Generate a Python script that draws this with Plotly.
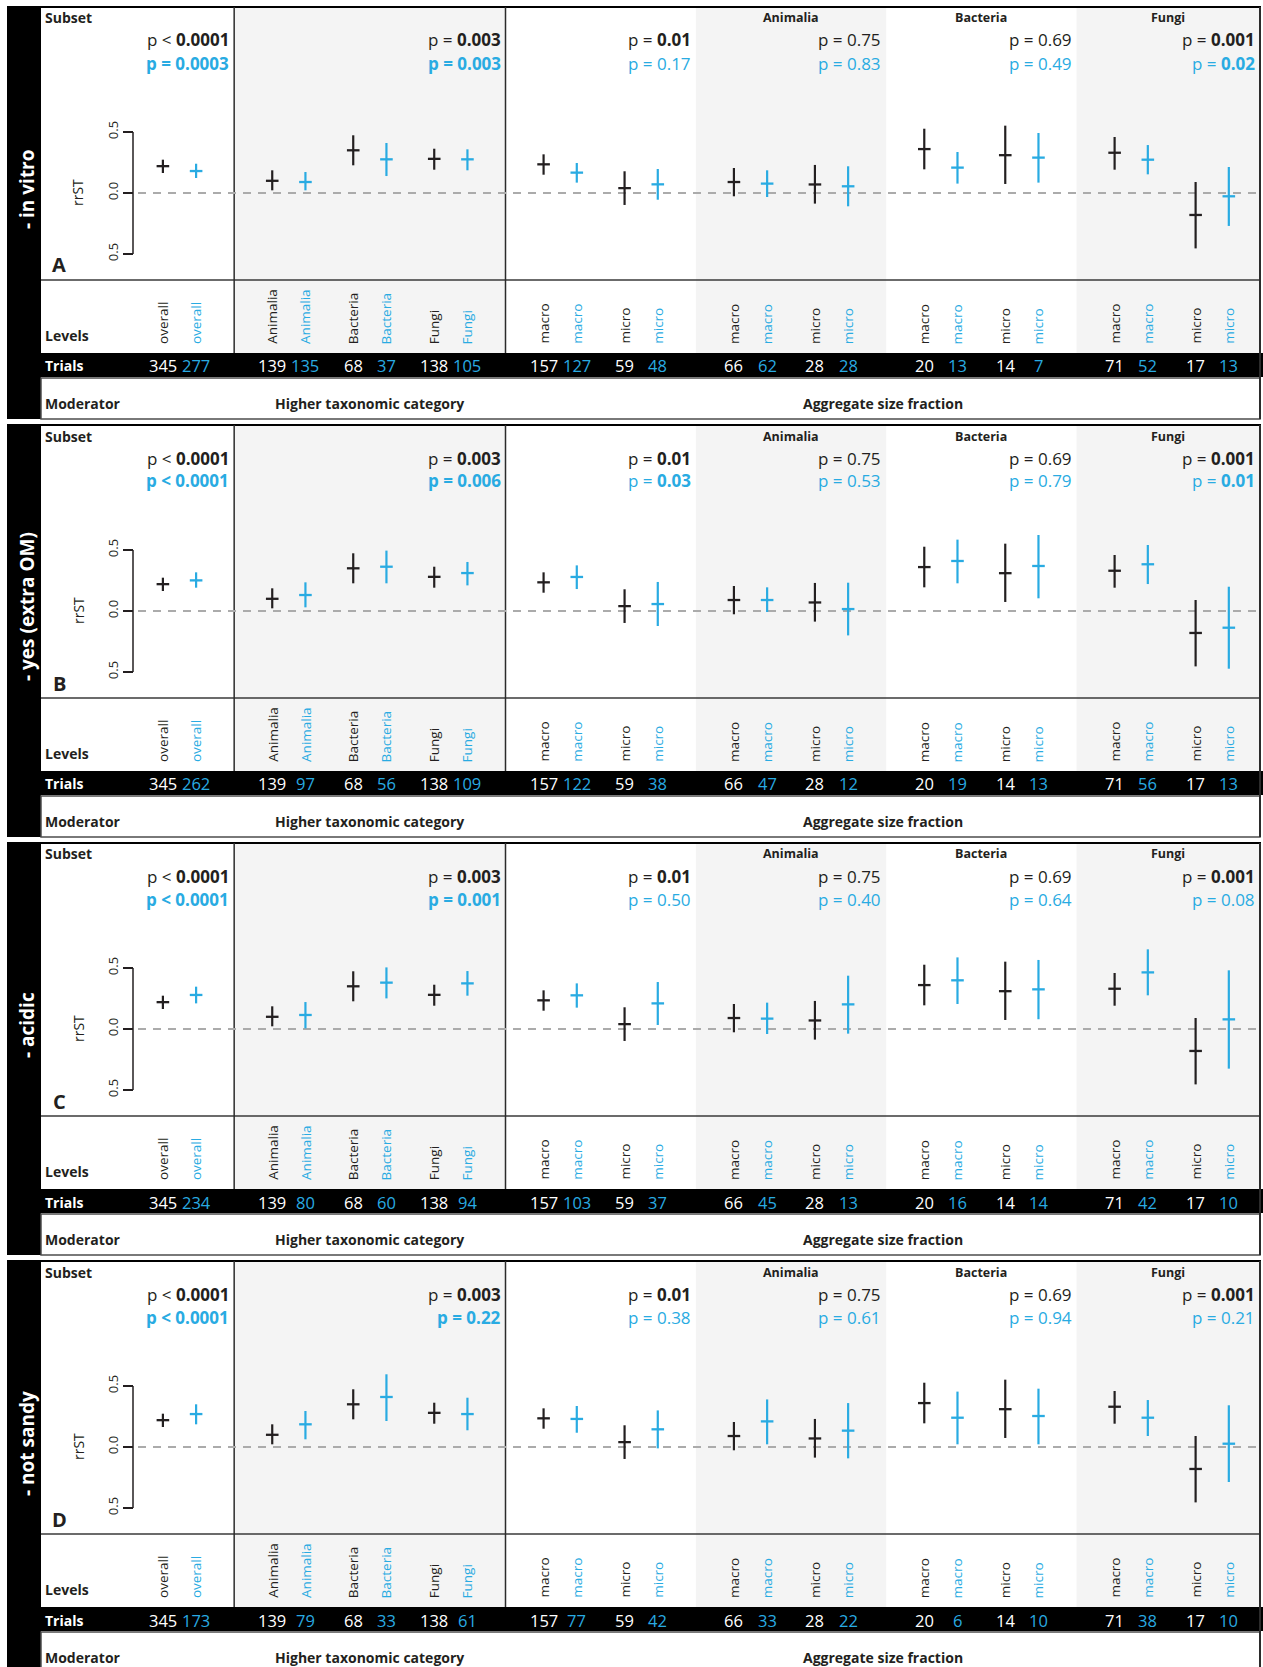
import plotly.graph_objects as go

W, H = 1263, 1667
BLUE = "#29abe2"
INK = "#231f20"
SHADE = "#f4f4f4"
FONT = "Open Sans, Noto Sans, sans-serif"

# ---------------- data ----------------
levels = ["overall", "Animalia", "Bacteria", "Fungi",
          "macro", "micro", "macro", "micro", "macro", "micro", "macro", "micro"]
level_section = [0, 1, 1, 1, 2, 2, 3, 3, 4, 4, 5, 5]
section_headers = ["", "", "", "Animalia", "Bacteria", "Fungi"]
moderator_names = ["Higher taxonomic category", "Aggregate size fraction"]
moderator_sections = [[1], [2, 3, 4, 5]]
subset_names = ["- in vitro", "- yes (extra OM)", "- acidic", "- not sandy"]
panel_letters = ["A", "B", "C", "D"]

# full data set (black)
full_est = [0.22, 0.10, 0.35, 0.28, 0.235, 0.04, 0.09, 0.07, 0.36, 0.31, 0.33, -0.18]
full_lo = [0.164, 0.022, 0.227, 0.191, 0.150, -0.098, -0.027, -0.087, 0.194, 0.074, 0.191, -0.454]
full_hi = [0.273, 0.186, 0.473, 0.363, 0.317, 0.178, 0.205, 0.230, 0.527, 0.552, 0.459, 0.090]
full_trials = [345, 139, 68, 138, 157, 59, 66, 28, 20, 14, 71, 17]
full_p = ["< 0.0001", "= 0.003", "= 0.01", "= 0.75", "= 0.69", "= 0.001"]

# subsets (blue), one row per panel A-D
subset_est = [
    [0.18, 0.09, 0.276, 0.276, 0.167, 0.071, 0.077, 0.055, 0.208, 0.29, 0.273, -0.027],
    [0.251, 0.131, 0.363, 0.311, 0.279, 0.057, 0.09, 0.016, 0.41, 0.369, 0.383, -0.137],
    [0.279, 0.115, 0.38, 0.374, 0.276, 0.21, 0.085, 0.202, 0.399, 0.325, 0.464, 0.079],
    [0.27, 0.186, 0.41, 0.27, 0.23, 0.145, 0.21, 0.134, 0.24, 0.254, 0.24, 0.027],
]
subset_lo = [
    [0.123, 0.022, 0.139, 0.186, 0.085, -0.055, -0.033, -0.109, 0.077, 0.085, 0.153, -0.27],
    [0.191, 0.03, 0.227, 0.21, 0.18, -0.123, -0.008, -0.2, 0.227, 0.104, 0.221, -0.473],
    [0.21, 0.005, 0.251, 0.273, 0.175, 0.033, -0.041, -0.038, 0.205, 0.08, 0.276, -0.325],
    [0.186, 0.063, 0.213, 0.137, 0.117, -0.011, 0.022, -0.093, 0.022, 0.022, 0.09, -0.287],
]
subset_hi = [
    [0.24, 0.172, 0.41, 0.358, 0.246, 0.197, 0.186, 0.219, 0.336, 0.492, 0.393, 0.213],
    [0.317, 0.235, 0.495, 0.402, 0.374, 0.238, 0.194, 0.232, 0.585, 0.623, 0.541, 0.199],
    [0.347, 0.221, 0.505, 0.475, 0.374, 0.385, 0.216, 0.437, 0.587, 0.566, 0.653, 0.481],
    [0.35, 0.295, 0.596, 0.404, 0.336, 0.30, 0.39, 0.36, 0.454, 0.478, 0.385, 0.342],
]
subset_trials = [
    [277, 135, 37, 105, 127, 48, 62, 28, 13, 7, 52, 13],
    [262, 97, 56, 109, 122, 38, 47, 12, 19, 13, 56, 13],
    [234, 80, 60, 94, 103, 37, 45, 13, 16, 14, 42, 10],
    [173, 79, 33, 61, 77, 42, 33, 22, 6, 10, 38, 10],
]
subset_p = [
    ["= 0.0003", "= 0.003", "= 0.17", "= 0.83", "= 0.49", "= 0.02"],
    ["< 0.0001", "= 0.006", "= 0.03", "= 0.53", "= 0.79", "= 0.01"],
    ["< 0.0001", "= 0.001", "= 0.50", "= 0.40", "= 0.64", "= 0.08"],
    ["< 0.0001", "= 0.22", "= 0.38", "= 0.61", "= 0.94", "= 0.21"],
]
y_ticks = [-0.5, 0.0, 0.5]
y_tick_text = ["0.5", "0.0", "0.5"]

# ---------------- layout geometry ----------------
X_RANGE = [-2.216, 13.377]          # slot units across the full page width
UNIT_PX = 122.0                     # pixels per 1.0 of rrST
BLOCK_H = 418
BLOCK_TOP0 = 7
PLOT_H = 273
ZERO_OFF = 186
LEFT_EDGE, RIGHT_EDGE = 41, 1260


def u2px(u):
    return (u - X_RANGE[0]) / (X_RANGE[1] - X_RANGE[0]) * W


def xp(px):
    return px / W


def yp(py):
    return 1 - py / H


# slot positions: 1 unit between levels of a section, 1.35 between sections
pos = []
u = 0.0
for i, s in enumerate(level_section):
    if i > 0:
        u += 1.0 if s == level_section[i - 1] else 1.35
    pos.append(u)
DX = 0.205
x_full = [p - DX for p in pos]
x_sub = [p + DX for p in pos]

n_sec = len(section_headers)
sec_first = [level_section.index(s) for s in range(n_sec)]
sec_last = [len(level_section) - 1 - level_section[::-1].index(s) for s in range(n_sec)]
bounds = [u2px((pos[sec_last[s]] + pos[sec_first[s + 1]]) / 2) for s in range(n_sec - 1)]
sec_left = [LEFT_EDGE] + bounds
sec_right = bounds + [RIGHT_EDGE]


def p_text(s, bold_all):
    comp, num = s.split(" ")
    comp = "&lt;" if comp == "<" else comp
    if bold_all:
        return f"<b>p {comp} {num}</b>"
    if float(num) < 0.05:
        return f"p {comp} <b>{num}</b>"
    return f"p {comp} {num}"


fig = go.Figure()
shapes = []
ann = []
layout_axes = {}


def rect(x0, x1, y0, y1, fill, line=None, lw=0):
    shapes.append(dict(type="rect", xref="paper", yref="paper",
                       x0=xp(x0), x1=xp(x1), y0=yp(y1), y1=yp(y0),
                       fillcolor=fill, line=dict(width=lw, color=line or fill),
                       layer="below"))


def hline(x0, x1, y, color, w):
    shapes.append(dict(type="line", xref="paper", yref="paper",
                       x0=xp(x0), x1=xp(x1), y0=yp(y), y1=yp(y),
                       line=dict(color=color, width=w), layer="below"))


def vline(x, y0, y1, color, w):
    shapes.append(dict(type="line", xref="paper", yref="paper",
                       x0=xp(x), x1=xp(x), y0=yp(y0), y1=yp(y1),
                       line=dict(color=color, width=w), layer="below"))


def text(x, y, s, size, color=INK, xanchor="left", yanchor="middle", angle=0,
         family=FONT, xref="paper"):
    ann.append(dict(x=x, y=y, xref=xref, yref="paper", text=s, showarrow=False,
                    xanchor=xanchor, yanchor=yanchor, textangle=angle,
                    font=dict(size=size, color=color, family=family),
                    borderpad=0, borderwidth=0))


for b in range(4):
    t = BLOCK_TOP0 + BLOCK_H * b
    ax = "" if b == 0 else str(b + 1)
    xa, ya = "x" + ax, "y" + ax

    # backgrounds and frame
    for s in (1, 3, 5):
        rect(sec_left[s], sec_right[s], t, t + 346, SHADE)
    rect(7, LEFT_EDGE, t, t + 412, "black")
    rect(7, W, t + 346, t + 370, "black")
    rect(LEFT_EDGE, RIGHT_EDGE, t + 371, t + 412, "white", "#4d4d4d", 1.5)
    hline(7, RIGHT_EDGE + 1, t, "black", 2)
    hline(LEFT_EDGE, RIGHT_EDGE, t + PLOT_H, "#3a3a3a", 1.5)
    for s in (0, 1):
        vline(sec_right[s], t, t + 346, "#2b2b2b", 1.5)
    vline(RIGHT_EDGE, t, t + 412, "#2b2b2b", 2)

    # zero reference and rrST axis bracket
    shapes.append(dict(type="line", xref="paper", yref=ya, x0=xp(123), x1=xp(RIGHT_EDGE),
                       y0=0, y1=0, line=dict(color="#ababab", width=2, dash="8px,7px"),
                       layer="below"))
    shapes.append(dict(type="line", xref="paper", yref=ya, x0=xp(133), x1=xp(133),
                       y0=-0.5, y1=0.5, line=dict(color=INK, width=1.5), layer="below"))

    # axes
    layout_axes["xaxis" + ax] = dict(domain=[0, 1], range=X_RANGE, visible=False,
                                     anchor=ya, fixedrange=True)
    layout_axes["yaxis" + ax] = dict(
        domain=[yp(t + PLOT_H), yp(t)],
        range=[-(PLOT_H - ZERO_OFF) / UNIT_PX, ZERO_OFF / UNIT_PX],
        anchor="free", position=xp(133), side="left",
        showline=False, showgrid=False, zeroline=False,
        tickmode="array", tickvals=y_ticks, ticktext=y_tick_text,
        ticks="outside", ticklen=10, tickwidth=1.5, tickcolor=INK,
        tickangle=-90, tickfont=dict(size=13, color=INK, family=FONT),
        fixedrange=True)

    # estimates with confidence intervals
    for xs, est, lo, hi, col in (
            (x_full, full_est, full_lo, full_hi, INK),
            (x_sub, subset_est[b], subset_lo[b], subset_hi[b], BLUE)):
        fig.add_trace(go.Scatter(
            x=xs, y=est, xaxis=xa, yaxis=ya, mode="markers",
            marker=dict(symbol="line-ew", size=9, color=col,
                        line=dict(width=2.3, color=col)),
            error_y=dict(type="data", symmetric=False,
                         array=[h - e for h, e in zip(hi, est)],
                         arrayminus=[e - l for e, l in zip(est, lo)],
                         width=0, thickness=2.2, color=col),
            hoverinfo="skip", showlegend=False))

    # row labels
    text(xp(45), yp(t + 11), "<b>Subset</b>", 14)
    text(xp(45), yp(t + 328), "<b>Levels</b>", 14)
    text(xp(45), yp(t + 359), "<b>Trials</b>", 14, color="white")
    text(xp(45), yp(t + 396), "<b>Moderator</b>", 14)
    text(xp(59), yp(t + 258), f"<b>{panel_letters[b]}</b>", 20, xanchor="center")
    text(xp(78), yp(t + ZERO_OFF), "rrST", 14, xanchor="center", angle=-90)
    text(xp(27), yp(t + 182), f"<b>{subset_names[b]}</b>", 19, color="white",
         xanchor="center", angle=-90)

    # section headers and p-values
    for s in range(n_sec):
        cx = (sec_left[s] + sec_right[s]) / 2
        if section_headers[s]:
            text(xp(cx), yp(t + 11), f"<b>{section_headers[s]}</b>", 12.5,
                 xanchor="center")
        rx = xp(sec_right[s] - 5)
        text(rx, yp(t + 33), p_text(full_p[s], False), 17, xanchor="right")
        text(rx, yp(t + 56), p_text(subset_p[b][s], s < 2), 17, color=BLUE,
             xanchor="right")

    # level names and trial counts
    for i, lev in enumerate(levels):
        for xv, col, n in ((x_full[i], INK, full_trials[i]),
                           (x_sub[i], BLUE, subset_trials[b][i])):
            text(xv, yp(t + 337), lev, 13.5, color=col, xanchor="center",
                 yanchor="bottom", angle=-90, xref=xa)
            text(xv, yp(t + 359), str(n), 16.5,
                 color="white" if col == INK else BLUE, xanchor="center", xref=xa)

    # moderator names
    for name, secs in zip(moderator_names, moderator_sections):
        cx = (sec_left[secs[0]] + sec_right[secs[-1]]) / 2
        text(xp(cx), yp(t + 396), f"<b>{name}</b>", 14, xanchor="center")

fig.update_layout(
    width=W, height=H, margin=dict(l=0, r=0, t=0, b=0),
    paper_bgcolor="white", plot_bgcolor="rgba(0,0,0,0)",
    showlegend=False, shapes=shapes, annotations=ann,
    font=dict(family=FONT, color=INK), **layout_axes)

fig.write_html("out.html", config={"displayModeBar": False})
